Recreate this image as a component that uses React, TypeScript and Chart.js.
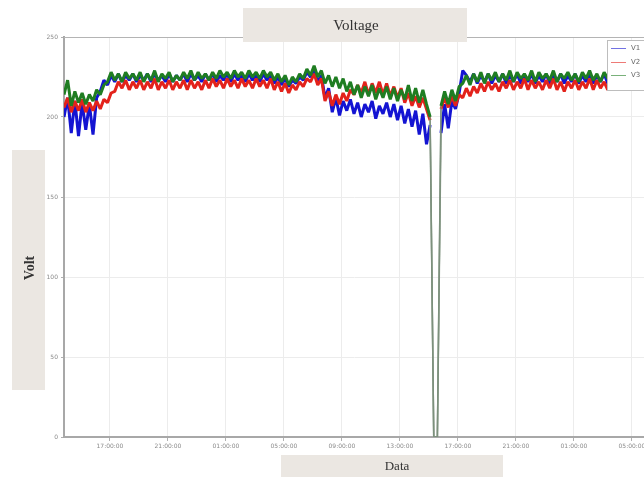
import React, { useEffect, useRef } from "react";
import { Chart, registerables } from "chart.js";

Chart.register(...registerables);

const START_HOUR = 13.83;
const STEP_HOURS = 0.25;
const X_MIN = 13.83;
const X_MAX = 53.83;
const TICK_HOURS = [17, 21, 25, 29, 33, 37, 41, 45, 49, 53];
const Y_TICKS = [0, 50, 100, 150, 200, 250];
const SERIES_NAMES = ["V1", "V2", "V3"];
const SERIES_COLORS = ["#1414d2", "#e3221b", "#1f7d22"];

const V1 = [
  200, 212, 190, 210, 188, 209, 192, 208, 189, 212,
  216, 223, 220, 226, 222, 227, 222, 226, 223, 227,
  222, 226, 223, 227, 222, 227, 223, 226, 222, 227,
  222, 226, 223, 227, 222, 227, 223, 226, 222, 227,
  223, 227, 222, 226, 223, 227, 222, 227, 223, 226,
  222, 227, 223, 226, 222, 227, 223, 226, 221, 225,
  220, 224, 219, 223, 221, 225, 223, 228, 225, 229,
  222, 226, 212, 218, 203, 212, 201, 210, 204, 211,
  202, 209, 200, 208, 203, 210, 199, 207, 202, 209,
  200, 208, 198, 207, 196, 205, 194, 204, 189, 202,
  183, 195, 0, 0, 190, 208, 193, 210, 205, 215,
  229, 226, 222, 227, 221, 226, 222, 227, 221, 226,
  222, 227, 221, 226, 222, 227, 221, 226, 222, 227,
  221, 226, 222, 227, 221, 226, 222, 227, 221, 226,
  222, 227, 221, 226, 222, 227, 221, 226, 222, 227,
  221, 226, 222, 227, 221, 226, 222, 227, 221, 226,
  222,
];

const V2 = [
  206, 212, 203, 210, 204, 211, 203, 209, 204, 210,
  205, 211, 209, 215, 216, 222, 218, 223, 217, 222,
  218, 223, 217, 222, 218, 224, 217, 222, 218, 223,
  217, 222, 218, 223, 217, 223, 218, 222, 217, 223,
  218, 224, 219, 223, 218, 224, 219, 223, 218, 224,
  219, 223, 218, 224, 219, 223, 218, 224, 217, 222,
  216, 221, 215, 220, 217, 222, 219, 224, 222, 227,
  220, 224, 210, 216, 207, 214, 208, 215, 210, 217,
  214, 220, 215, 222, 214, 221, 215, 222, 214, 221,
  213, 219, 212, 218, 209, 215, 207, 213, 206, 212,
  205, 198, 0, 0, 205, 212, 206, 213, 207, 214,
  212, 218, 213, 219, 215, 221, 216, 222, 217, 221,
  216, 222, 218, 223, 217, 222, 218, 224, 217, 223,
  218, 222, 217, 223, 218, 224, 217, 222, 216, 222,
  218, 223, 217, 222, 218, 224, 217, 223, 218, 222,
  217, 223, 218, 222, 217, 223, 218, 224, 217, 222,
  218,
];

const V3 = [
  214, 223, 207, 216, 209, 215, 208, 214, 210, 217,
  214, 220, 222, 228, 223, 227, 222, 228, 224, 227,
  223, 228, 222, 227, 223, 229, 222, 227, 224, 228,
  222, 226, 223, 228, 224, 229, 223, 228, 224, 227,
  223, 228, 224, 229, 225, 228, 224, 229, 225, 228,
  224, 229, 225, 228, 224, 229, 225, 228, 223, 227,
  222, 226, 220, 225, 222, 227, 224, 230, 226, 232,
  225, 229, 221, 226, 219, 225, 218, 224, 216, 222,
  214, 220, 212, 219, 213, 220, 211, 218, 212, 219,
  211, 218, 210, 217, 211, 220, 210, 218, 209, 217,
  208, 200, 0, 0, 207, 216, 208, 217, 210, 219,
  221, 226, 220, 227, 222, 228, 221, 227, 223, 228,
  222, 227, 223, 229, 222, 228, 224, 227, 223, 229,
  222, 228, 224, 227, 223, 229, 222, 227, 224, 228,
  223, 227, 222, 228, 224, 229, 223, 227, 222, 228,
  224, 227, 223, 228, 222, 227, 224, 228, 223, 227,
  224,
];

const SERIES = [V1, V2, V3];

function toPoints(values: number[]) {
  return values.map((v, i) => ({ x: START_HOUR + i * STEP_HOURS, y: v }));
}

function hourLabel(h: number) {
  const hh = Math.round(h) % 24;
  return (hh < 10 ? "0" + hh : "" + hh) + ":00:00";
}

const decorPlugin = {
  id: "decor",
  beforeDatasetsDraw(chart: any) {
    const ctx = chart.ctx;
    const a = chart.chartArea;
    ctx.save();
    ctx.strokeStyle = "#b4b4b4";
    ctx.lineWidth = 1;
    ctx.beginPath();
    ctx.moveTo(a.left, a.top + 0.5);
    ctx.lineTo(a.right, a.top + 0.5);
    ctx.stroke();
    ctx.restore();
  },
  afterDraw(chart: any) {
    const ctx = chart.ctx;
    ctx.save();
    // title box
    ctx.fillStyle = "#ebe7e2";
    ctx.fillRect(243, 8, 224, 34);
    ctx.fillStyle = "#333333";
    ctx.font = '15px "Liberation Serif"';
    ctx.textAlign = "center";
    ctx.textBaseline = "middle";
    ctx.fillText("Voltage", 356, 26);
    // y title box
    ctx.fillStyle = "#ebe7e2";
    ctx.fillRect(12, 150, 33, 240);
    ctx.save();
    ctx.translate(30, 268);
    ctx.rotate(-Math.PI / 2);
    ctx.fillStyle = "#333333";
    ctx.font = 'bold 14px "Liberation Serif"';
    ctx.textAlign = "center";
    ctx.textBaseline = "middle";
    ctx.fillText("Volt", 0, 0);
    ctx.restore();
    // x title box
    ctx.fillStyle = "#ebe7e2";
    ctx.fillRect(281, 455, 222, 30);
    ctx.fillStyle = "#333333";
    ctx.font = '13px "Liberation Serif"';
    ctx.textAlign = "center";
    ctx.textBaseline = "middle";
    ctx.fillText("Data", 397, 467);
    // legend
    ctx.fillStyle = "#ffffff";
    ctx.fillRect(607, 40, 60, 50);
    ctx.strokeStyle = "#bdbdbd";
    ctx.lineWidth = 1;
    ctx.strokeRect(607.5, 40.5, 60, 50);
    const ys = [48, 62, 75];
    SERIES_NAMES.forEach((name, k) => {
      ctx.strokeStyle = SERIES_COLORS[k];
      ctx.globalAlpha = 0.6;
      ctx.beginPath();
      ctx.moveTo(611, ys[k] + 0.5);
      ctx.lineTo(626, ys[k] + 0.5);
      ctx.stroke();
      ctx.globalAlpha = 1;
      ctx.fillStyle = "#666666";
      ctx.font = '7px "DejaVu Sans"';
      ctx.textAlign = "left";
      ctx.textBaseline = "middle";
      ctx.fillText(name, 631, ys[k]);
    });
    ctx.restore();
  },
};

export default function App() {
  const ref = useRef<HTMLCanvasElement | null>(null);
  useEffect(() => {
    document.body.style.margin = "0";
    document.body.style.overflow = "hidden";
    const canvas = ref.current!;
    const chart = new Chart(canvas, {
      type: "line",
      data: {
        datasets: SERIES.map((vals, k) => ({
          label: SERIES_NAMES[k],
          data: toPoints(vals),
          borderColor: SERIES_COLORS[k],
          backgroundColor: SERIES_COLORS[k],
          borderWidth: 3,
          borderJoinStyle: "bevel" as const,
          pointRadius: 0,
          tension: 0,
          order: 2 - k,
          segment: {
            borderColor: (c: any) =>
              c.p0.parsed.y === 0 || c.p1.parsed.y === 0 ? "rgba(125,145,125,0.85)" : undefined,
            borderWidth: (c: any) =>
              c.p0.parsed.y === 0 || c.p1.parsed.y === 0 ? 1.5 : undefined,
          },
        })),
      },
      options: {
        animation: false,
        responsive: false,
        events: [],
        layout: { padding: { top: 37, left: 0, right: 0, bottom: 0 } },
        plugins: {
          legend: { display: false },
          title: { display: false },
          tooltip: { enabled: false },
        },
        scales: {
          x: {
            type: "linear",
            min: X_MIN,
            max: X_MAX,
            afterBuildTicks: (scale: any) => {
              scale.ticks = TICK_HOURS.map((v) => ({ value: v }));
            },
            afterFit: (scale: any) => {
              scale.height = 40;
              scale.paddingLeft = 0;
              scale.paddingRight = 0;
            },
            ticks: {
              callback: (v: any) => hourLabel(Number(v)),
              color: "#8a8a8a",
              font: { size: 6, family: "DejaVu Sans" },
              maxRotation: 0,
              autoSkip: false,
              padding: 2,
            },
            grid: { color: "#ececec", tickLength: 4, tickColor: "#b0b0b0" },
            border: { color: "#a8a8a8", width: 2 },
          },
          y: {
            min: 0,
            max: 250,
            afterBuildTicks: (scale: any) => {
              scale.ticks = Y_TICKS.map((v) => ({ value: v }));
            },
            afterFit: (scale: any) => {
              scale.width = 64;
              scale.paddingTop = 0;
              scale.paddingBottom = 0;
            },
            ticks: {
              color: "#8a8a8a",
              font: { size: 6, family: "DejaVu Sans" },
              padding: 3,
            },
            grid: { color: "#ececec", tickLength: 3, tickColor: "#b0b0b0" },
            border: { color: "#a8a8a8", width: 2 },
          },
        },
      },
      plugins: [decorPlugin],
    });
    return () => chart.destroy();
  }, []);
  return (
    <div style={{ position: "absolute", left: 0, top: 0, width: 644, height: 477 }}>
      <canvas ref={ref} width={644} height={477} />
    </div>
  );
}
